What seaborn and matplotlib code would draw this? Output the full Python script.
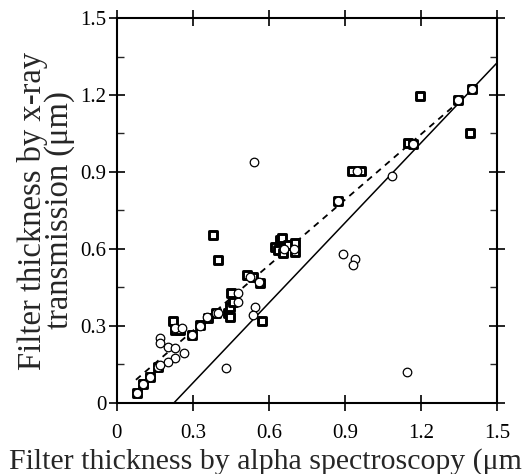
import numpy as np
import pandas as pd
import matplotlib.pyplot as plt
import seaborn as sns
from matplotlib.ticker import MultipleLocator, FuncFormatter

# square markers (x-ray vs alpha, filter set A)
sq_x = [0.078, 0.104, 0.130, 0.163, 0.222, 0.229, 0.249, 0.295, 0.328, 0.360,
        0.393, 0.380, 0.400, 0.440, 0.446, 0.446, 0.450, 0.459, 0.512, 0.538,
        0.565, 0.571, 0.624, 0.643, 0.650, 0.637, 0.657, 0.676, 0.703, 0.703,
        0.871, 0.929, 0.963, 1.150, 1.170, 1.196, 1.347, 1.394, 1.403]
sq_y = [0.040, 0.074, 0.100, 0.141, 0.321, 0.284, 0.284, 0.265, 0.304, 0.330,
        0.349, 0.654, 0.557, 0.349, 0.336, 0.375, 0.427, 0.395, 0.499, 0.492,
        0.466, 0.320, 0.609, 0.635, 0.642, 0.596, 0.583, 0.616, 0.622, 0.589,
        0.788, 0.905, 0.905, 1.012, 1.009, 1.197, 1.180, 1.051, 1.222]

# circle markers (filter set B)
ci_x = [0.078, 0.104, 0.130, 0.163, 0.170, 0.170, 0.203, 0.229, 0.265, 0.229,
        0.203, 0.170, 0.228, 0.255, 0.295, 0.328, 0.354, 0.392, 0.400, 0.429,
        0.479, 0.479, 0.525, 0.545, 0.538, 0.560, 0.542, 0.660, 0.700, 0.871,
        0.946, 0.891, 0.940, 0.933, 1.084, 1.144, 1.170, 1.347, 1.403]
ci_y = [0.040, 0.074, 0.100, 0.141, 0.252, 0.233, 0.219, 0.213, 0.194, 0.174,
        0.161, 0.148, 0.290, 0.290, 0.265, 0.300, 0.336, 0.349, 0.349, 0.135,
        0.395, 0.427, 0.490, 0.375, 0.343, 0.470, 0.940, 0.600, 0.600, 0.788,
        0.905, 0.580, 0.560, 0.538, 0.884, 0.122, 1.010, 1.180, 1.222]

# fitted lines
solid_x = [0.225, 1.50]
solid_y = [0.000, 1.325]
dash_x = [0.075, 1.345]
dash_y = [0.090, 1.170]

sns.set_theme(style="ticks")
plt.rcParams['font.family'] = ['Liberation Serif', 'DejaVu Serif']

fig = plt.figure(figsize=(5.22, 4.74), dpi=100)
ax = fig.add_axes([0.224, 0.150, 0.728, 0.812])

sns.lineplot(x=solid_x, y=solid_y, ax=ax, color='black', linewidth=1.1, zorder=2)
sns.lineplot(x=dash_x, y=dash_y, ax=ax, color='black', linewidth=1.3,
             linestyle=(0, (3.5, 3)), zorder=2)

sns.scatterplot(x=sq_x, y=sq_y, ax=ax, marker='s', s=34, facecolor='white',
                edgecolor='black', linewidth=2.1, zorder=3)
sns.scatterplot(x=ci_x, y=ci_y, ax=ax, marker='o', s=38, facecolor='white',
                edgecolor='black', linewidth=0.9, zorder=4)

ax.set_xlim(0, 1.5)
ax.set_ylim(0, 1.5)
fmt = FuncFormatter(lambda v, p: '0' if abs(v) < 1e-9 else f'{v:.1f}')
ax.xaxis.set_major_locator(MultipleLocator(0.3))
ax.yaxis.set_major_locator(MultipleLocator(0.3))
ax.yaxis.set_minor_locator(MultipleLocator(0.15))
ax.xaxis.set_major_formatter(fmt)
ax.yaxis.set_major_formatter(fmt)
ax.tick_params(which='major', direction='inout', length=11, width=1.2,
               top=True, right=True, labelsize=15, colors='black', pad=2)
ax.tick_params(axis='x', which='major', pad=10)
ax.tick_params(which='minor', axis='y', direction='in', length=5, width=1.0,
               left=True, right=True)
for s in ax.spines.values():
    s.set_linewidth(1.5)
    s.set_color('black')

ax.set_xlabel('Filter thickness by alpha spectroscopy (\u03bcm)', fontsize=21.5)
ax.xaxis.set_label_coords(0.405, -0.118)
ax.set_ylabel('Filter thickness by x-ray\ntransmission (\u03bcm)', fontsize=23.5,
              labelpad=4, linespacing=0.85)

fig.savefig('out.png', dpi=100)
